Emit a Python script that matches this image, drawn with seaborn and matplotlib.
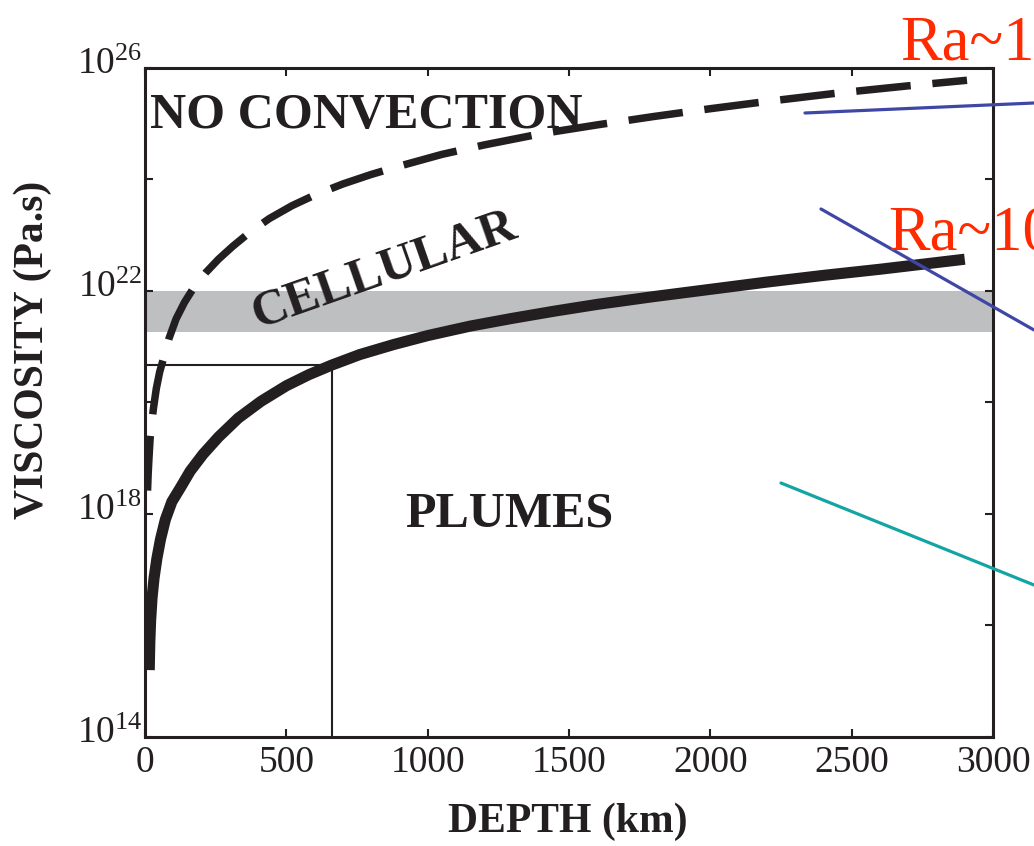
import numpy as np
import pandas as pd
import seaborn as sns
import matplotlib.pyplot as plt
import matplotlib.transforms as mtransforms
from matplotlib.lines import Line2D

# values: depth (km) and log10 of viscosity (Pa.s)
plume_depth = [15, 17, 20, 25, 32, 42, 55, 72, 95, 125, 160, 205, 260, 330, 410,
               500, 580, 660, 760, 880, 1000, 1150, 1300, 1450, 1600, 1800, 2000,
               2200, 2400, 2600, 2750, 2900]
plume_log_visc = [15.2, 15.7, 16.1, 16.5, 16.85, 17.2, 17.55, 17.9, 18.22, 18.47,
                  18.77, 19.07, 19.38, 19.72, 20.02, 20.3, 20.5, 20.67, 20.86, 21.04,
                  21.2, 21.37, 21.51, 21.64, 21.76, 21.9, 22.03, 22.16, 22.28, 22.39,
                  22.48, 22.57]

cell_depth = [9, 11, 14, 18, 23, 30, 40, 52, 66, 85, 110, 140, 175, 215, 260, 310,
              370, 440, 520, 600, 700, 800, 900, 1050, 1200, 1400, 1600, 1800, 2000,
              2200, 2450, 2700, 2908]
cell_log_visc = [18.42, 18.7, 19.0, 19.35, 19.6, 19.9, 20.25, 20.55, 20.8, 21.15,
                 21.5, 21.8, 22.08, 22.33, 22.57, 22.8, 23.05, 23.3, 23.53, 23.72,
                 23.92, 24.09, 24.24, 24.45, 24.62, 24.82, 24.98, 25.13, 25.27, 25.4,
                 25.55, 25.68, 25.78]

# lower mantle viscosity band and the 660 km marker
band_low, band_high = 10**21.26, 1e22
ref_depth = 660
ref_visc = 10**20.67

depth_ticks = [0, 500, 1000, 1500, 2000, 2500, 3000]
visc_ticks = [1e14, 1e16, 1e18, 1e20, 1e22, 1e24, 1e26]
visc_labels = ['14', '', '18', '', '22', '', '26']

ink = '#231f20'
W, H = 1034, 846

sns.set_theme(style='ticks')
plt.rcParams['font.family'] = ['Liberation Serif', 'DejaVu Serif']
plt.rcParams['mathtext.fontset'] = 'custom'
plt.rcParams['mathtext.rm'] = 'Liberation Serif'
plt.rcParams['mathtext.it'] = 'Liberation Serif:italic'
plt.rcParams['mathtext.bf'] = 'Liberation Serif:bold'

fig = plt.figure(figsize=(W / 100, H / 100), dpi=100)
ax = fig.add_axes([145 / W, 109 / H, 848 / W, 669 / H])
ax.set_yscale('log')

plumes = pd.DataFrame({'depth': plume_depth, 'visc': 10 ** np.array(plume_log_visc)})
cells = pd.DataFrame({'depth': cell_depth, 'visc': 10 ** np.array(cell_log_visc)})

ax.axhspan(band_low, band_high, color='#bdbfc1', lw=0, zorder=0.5)

sns.lineplot(data=plumes, x='depth', y='visc', ax=ax, color=ink, lw=8,
             estimator=None, sort=False, solid_capstyle='butt', zorder=3)
sns.lineplot(data=cells, x='depth', y='visc', ax=ax, color=ink, lw=5.4,
             estimator=None, sort=False, zorder=3)
ax.lines[-1].set_dashes([7.3, 2.9])
ax.lines[-1].set_dash_capstyle('butt')

# 660 km guide lines
ax.plot([0, ref_depth], [ref_visc, ref_visc], color=ink, lw=1.5, zorder=2)
ax.plot([ref_depth, ref_depth], [1e14, ref_visc], color=ink, lw=1.5, zorder=2)

ax.set_xlim(0, 3000)
ax.set_ylim(1e14, 1e26)
ax.set_xticks(depth_ticks)
ax.set_xticklabels([str(d) for d in depth_ticks])
ax.set_yticks(visc_ticks)
ax.set_yticklabels([r'$\mathregular{10^{%s}}$' % s if s else '' for s in visc_labels])
ax.minorticks_off()
ax.tick_params(direction='in', length=6, width=1.5, color=ink, top=True, right=True,
               labelcolor=ink, labelsize=27)
ax.tick_params(axis='x', pad=6)
ax.tick_params(axis='y', pad=2)
# the y labels sit a little above their ticks in the original
lift = mtransforms.ScaledTranslation(0, 5 / 72, fig.dpi_scale_trans)
for lbl in ax.get_yticklabels():
    lbl.set_transform(lbl.get_transform() + lift)
for sp in ax.spines.values():
    sp.set_linewidth(2.2)
    sp.set_color(ink)
ax.set_xlabel('')
ax.set_ylabel('')

# regime labels
ax.text(18, 10**24.92, 'NO CONVECTION', fontsize=36, fontweight='bold', color=ink,
        ha='left', va='baseline', zorder=1.5)
ax.text(396, 10**21.35, 'CELLULAR', fontsize=36, fontweight='bold', color=ink,
        ha='left', va='baseline', rotation=19.3, rotation_mode='anchor', zorder=1.5)
ax.text(920, 10**17.77, 'PLUMES', fontsize=36, fontweight='bold', color=ink,
        ha='left', va='baseline', zorder=1.5)

fig.text(568 / W, 1 - 822 / H, 'DEPTH (km)', fontsize=30, fontweight='bold',
         color=ink, ha='center', va='center')
fig.text(33 / W, 1 - 350 / H, 'VISCOSITY (Pa.s)', fontsize=30, fontweight='bold',
         color=ink, ha='center', va='center', rotation=90)

# slide overlays: Rayleigh number notes and pointer lines
fig.text(900 / W, 1 - 59 / H, 'Ra~1', fontsize=45, color='#ff2a00', va='baseline')
fig.text(888 / W, 1 - 250 / H, 'Ra~10', fontsize=45, color='#ff2a00', va='baseline')

pointers = [((805, 113), (1034, 103), '#3f47a6'),
            ((821, 209), (1034, 330), '#3f47a6'),
            ((781, 483), (1034, 585), '#12a5a3')]
for (x0, y0), (x1, y1), c in pointers:
    fig.add_artist(Line2D([x0 / W, x1 / W], [1 - y0 / H, 1 - y1 / H],
                          transform=fig.transFigure, color=c, lw=2.3))

fig.savefig('out.png', dpi=100)
